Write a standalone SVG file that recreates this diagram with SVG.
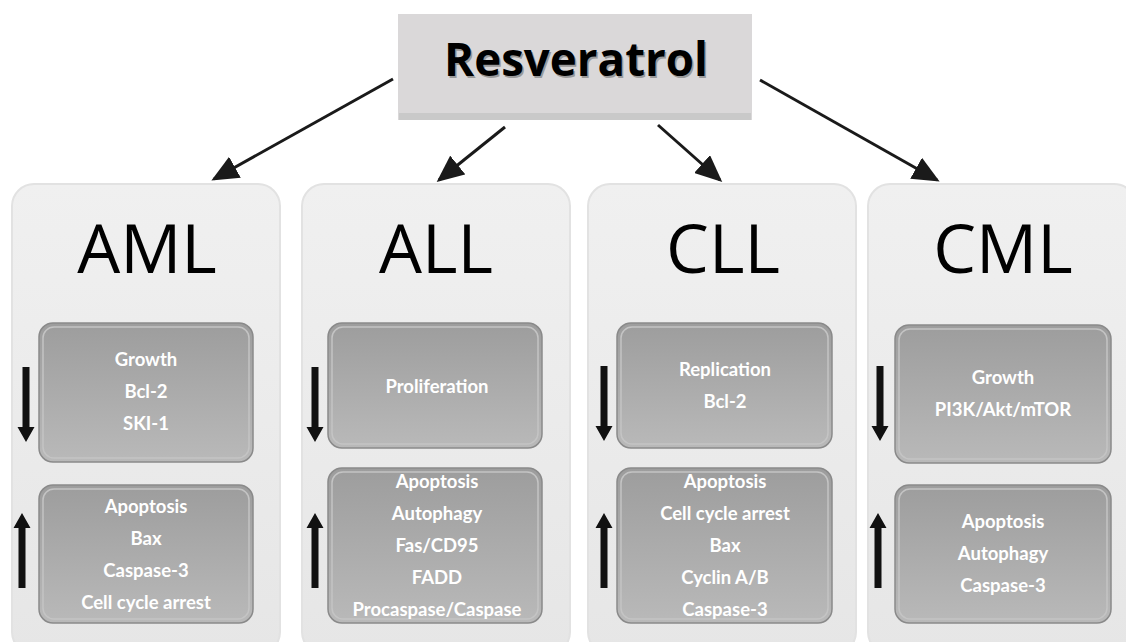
<svg xmlns="http://www.w3.org/2000/svg" width="1126" height="642" viewBox="0 0 1126 642">
<style>
.outer{fill:url(#og);stroke:#e2e2e2;stroke-width:2}
.inner{fill:url(#ig);stroke:#8a8a8a;stroke-width:1.5}
.bev{fill:none;stroke:#c4c4c4;stroke-width:1.5}
.head{font-family:"Open Sans","Liberation Sans",sans-serif;font-size:68px;fill:#000;text-anchor:middle}
.lbl{font-family:"Lato","Liberation Sans",sans-serif;font-weight:bold;font-size:18.5px;fill:#fff;text-anchor:middle}
.conn{stroke:#1a1a1a;stroke-width:3;fill:none;marker-end:url(#ah)}
.ud{fill:#111}
</style>
<defs>
<linearGradient id="og" x1="0" y1="0" x2="0" y2="1">
<stop offset="0" stop-color="#f0f0f0"/><stop offset="1" stop-color="#e6e6e6"/>
</linearGradient>
<linearGradient id="ig" x1="0" y1="0" x2="0" y2="1">
<stop offset="0" stop-color="#9d9d9d"/><stop offset="1" stop-color="#b9b9b9"/>
</linearGradient>
<marker id="ah" markerWidth="9" markerHeight="8" refX="8" refY="4" orient="auto" markerUnits="strokeWidth">
<path d="M0,0 L9,4 L0,8 Z" fill="#1a1a1a"/>
</marker>
</defs>

<g id="connectors">
<line class="conn" x1="393" y1="79" x2="214" y2="179"/>
<line class="conn" x1="505" y1="127" x2="439" y2="180"/>
<line class="conn" x1="658" y1="125" x2="720" y2="180"/>
<line class="conn" x1="760" y1="80" x2="937" y2="180"/>
</g>

<g id="resveratrol">
<rect x="398" y="14" width="354" height="106" fill="#dad8d9"/>
<rect x="399" y="113" width="352" height="7" fill="#c9c9c9"/>
<text x="577.5" y="77.5" font-family="'Open Sans','Liberation Sans',sans-serif" font-weight="bold" font-size="47" text-anchor="middle" textLength="264" lengthAdjust="spacingAndGlyphs" fill="#9a9a9a">Resveratrol</text>
<text x="576" y="76" font-family="'Open Sans','Liberation Sans',sans-serif" font-weight="bold" font-size="47" text-anchor="middle" textLength="264" lengthAdjust="spacingAndGlyphs" fill="#000">Resveratrol</text>
</g>

<g id="aml">
<rect class="outer" x="12" y="184" width="268" height="470" rx="22"/>
<text class="head" x="147" y="273">AML</text>
<rect class="inner" x="39" y="323" width="214" height="139" rx="14"/>
<rect class="bev" x="43" y="327" width="206" height="131" rx="11"/>
<rect class="inner" x="39" y="485" width="214" height="138" rx="14"/>
<rect class="bev" x="43" y="489" width="206" height="130" rx="11"/>
<text class="lbl" x="146" y="366">Growth</text>
<text class="lbl" x="146" y="398">Bcl-2</text>
<text class="lbl" x="146" y="430">SKI-1</text>
<text class="lbl" x="146" y="513">Apoptosis</text>
<text class="lbl" x="146" y="545">Bax</text>
<text class="lbl" x="146" y="577">Caspase-3</text>
<text class="lbl" x="146" y="609">Cell cycle arrest</text>
<path class="ud" d="M22.5,367 h7 v60 h5 l-8.5,15 l-8.5,-15 h5 z"/>
<path class="ud" d="M18.5,588 h7 v-60 h5 l-8.5,-15 l-8.5,15 h5 z"/>
</g>

<g id="all">
<rect class="outer" x="302" y="184" width="268" height="470" rx="22"/>
<text class="head" x="436" y="273">ALL</text>
<rect class="inner" x="328" y="323" width="214" height="125" rx="14"/>
<rect class="bev" x="332" y="327" width="206" height="117" rx="11"/>
<rect class="inner" x="328" y="468" width="214" height="155" rx="14"/>
<rect class="bev" x="332" y="472" width="206" height="147" rx="11"/>
<text class="lbl" x="437" y="393">Proliferation</text>
<text class="lbl" x="437" y="488">Apoptosis</text>
<text class="lbl" x="437" y="520">Autophagy</text>
<text class="lbl" x="437" y="552">Fas/CD95</text>
<text class="lbl" x="437" y="584">FADD</text>
<text class="lbl" x="437" y="616">Procaspase/Caspase</text>
<path class="ud" d="M311.5,367 h7 v60 h5 l-8.5,15 l-8.5,-15 h5 z"/>
<path class="ud" d="M311.5,588 h7 v-60 h5 l-8.5,-15 l-8.5,15 h5 z"/>
</g>

<g id="cll">
<rect class="outer" x="588" y="184" width="268" height="470" rx="22"/>
<text class="head" x="723" y="273">CLL</text>
<rect class="inner" x="617" y="323" width="215" height="125" rx="14"/>
<rect class="bev" x="621" y="327" width="207" height="117" rx="11"/>
<rect class="inner" x="617" y="468" width="215" height="155" rx="14"/>
<rect class="bev" x="621" y="472" width="207" height="147" rx="11"/>
<text class="lbl" x="725" y="376">Replication</text>
<text class="lbl" x="725" y="408">Bcl-2</text>
<text class="lbl" x="725" y="488">Apoptosis</text>
<text class="lbl" x="725" y="520">Cell cycle arrest</text>
<text class="lbl" x="725" y="552">Bax</text>
<text class="lbl" x="725" y="584">Cyclin A/B</text>
<text class="lbl" x="725" y="616">Caspase-3</text>
<path class="ud" d="M600.5,366 h7 v60 h5 l-8.5,15 l-8.5,-15 h5 z"/>
<path class="ud" d="M600.5,588 h7 v-60 h5 l-8.5,-15 l-8.5,15 h5 z"/>
</g>

<g id="cml">
<rect class="outer" x="868" y="184" width="268" height="470" rx="22"/>
<text class="head" x="1003" y="273">CML</text>
<rect class="inner" x="895" y="325" width="216" height="138" rx="14"/>
<rect class="bev" x="899" y="329" width="208" height="130" rx="11"/>
<rect class="inner" x="895" y="485" width="216" height="138" rx="14"/>
<rect class="bev" x="899" y="489" width="208" height="130" rx="11"/>
<text class="lbl" x="1003" y="384">Growth</text>
<text class="lbl" x="1003" y="416">PI3K/Akt/mTOR</text>
<text class="lbl" x="1003" y="528">Apoptosis</text>
<text class="lbl" x="1003" y="560">Autophagy</text>
<text class="lbl" x="1003" y="592">Caspase-3</text>
<path class="ud" d="M876.5,366 h7 v60 h5 l-8.5,15 l-8.5,-15 h5 z"/>
<path class="ud" d="M874.5,588 h7 v-60 h5 l-8.5,-15 l-8.5,15 h5 z"/>
</g>
</svg>
